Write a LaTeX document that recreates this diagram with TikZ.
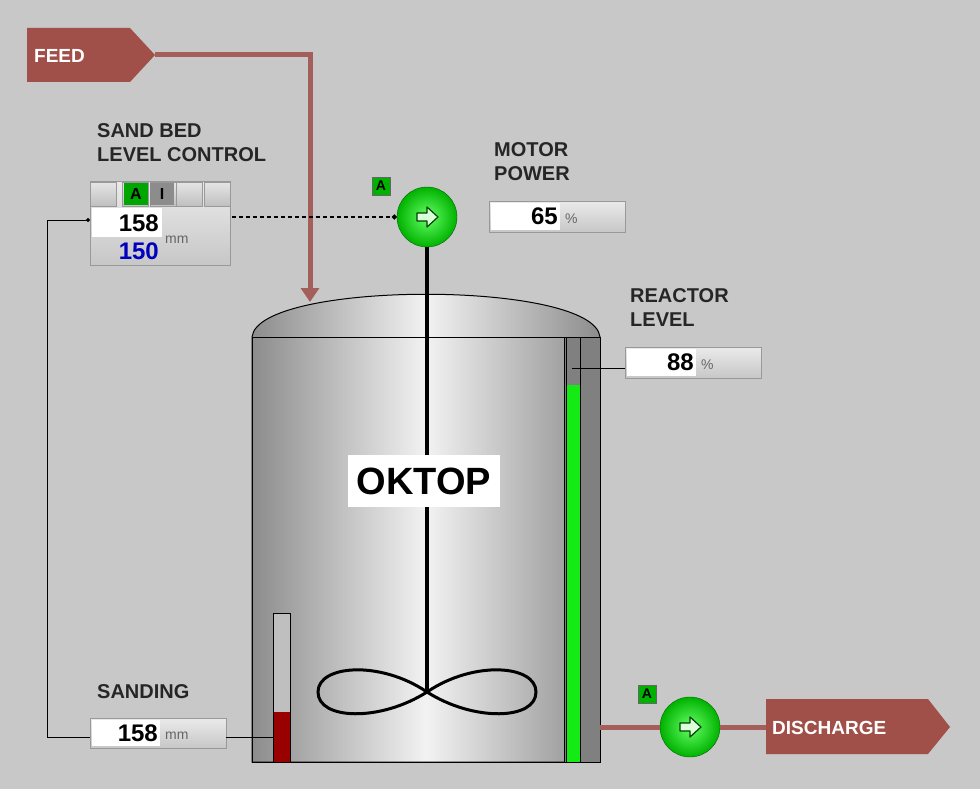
\documentclass[tikz,border=0pt]{standalone}
\usepackage{fontspec}
\setmainfont{Liberation Sans}
\usetikzlibrary{arrows.meta,shapes.geometric}
\definecolor{bg}{RGB}{200,200,200}
\definecolor{pipe}{RGB}{165,95,90}
\definecolor{tag}{RGB}{160,80,72}
\definecolor{gr}{RGB}{20,235,20}
\begin{document}
\begin{tikzpicture}[x=1pt,y=-1pt,
  lbl/.style={anchor=west,font=\fontsize{20}{24}\selectfont\bfseries,text=black!85,align=left,inner sep=0},
  val/.style={font=\fontsize{24}{24}\selectfont\bfseries,inner sep=0},
  unit/.style={font=\fontsize{14}{14}\selectfont,text=black!60,inner sep=0,anchor=west},
  vbox/.style={draw=black!40,top color=white!92!black,bottom color=black!22,line width=0.6pt},
  abox/.style={draw=black!60,fill=green!70!black,minimum width=18pt,minimum height=18pt,inner sep=0,font=\fontsize{14}{14}\selectfont\bfseries},
  pump/.style={circle,draw=green!40!black,inner color=green!60,outer color=green!70!black,minimum size=60pt,inner sep=0},
  icon/.style={fill=green!15,draw=green!25!black,line width=1.2pt,line join=round},
  tagsh/.style={fill=tag,text=white,font=\fontsize{19}{20}\selectfont\bfseries}]
\fill[bg] (0,0) rectangle (980,789);
\useasboundingbox (0,0) rectangle (980,789);
% FEED
\fill[tagsh] (27,28) -- (130,28) -- (155,55) -- (130,82) -- (27,82) -- cycle;
\node[tagsh,anchor=west,inner sep=0] (feed) at (34,56) {FEED};
\coordinate (feedtip) at (155,55);
\coordinate (feedcorner) at (310,55);
\coordinate (feedend) at (310,302);
\draw[pipe,line width=5pt,-{Triangle[length=14pt,width=18pt]}] (feedtip) -- (feedcorner) -- (feedend);
% tank
\shade[left color=black!45,right color=black!45,middle color=white!95!black,draw=black,line width=1pt]
  (252,762) -- (252,337) .. controls (258,280) and (594,280) .. (600,337) -- (600,762) -- cycle;
\draw[black,line width=1pt] (252,337) -- (600,337);
\fill[black!50] (564,337) rectangle (600,762);
\fill[gr] (566,385) rectangle (580,762);
\draw[black,line width=1pt] (564,337) -- (564,762) (566,337)--(566,762) (580,337)--(580,762);
\draw[black,line width=1pt] (252,762) rectangle (600,337);
% sanding gauge
\fill[black!25] (273,613) rectangle (290,762);
\fill[red!60!black] (273,712) rectangle (290,762);
\draw[black,line width=0.8pt] (273,762) -- (273,613) -- (290,613) -- (290,762);
% shaft and agitator
\node[pump] (motor) at (427,217) {};
\coordinate (hub) at (427,692);
\draw[black,line width=4pt] (motor.south) -- (hub);
\draw[black,line width=3pt] (hub) .. controls (380,660) and (318,665) .. (318,692) .. controls (318,720) and (380,722) .. (hub)
  .. controls (474,660) and (536,665) .. (536,692) .. controls (536,720) and (474,722) .. (hub);
\draw[icon,shift={(motor.center)}] (-10,-4) -- (0,-4) -- (0,-10) -- (11,0) -- (0,10) -- (0,4) -- (-10,4) -- cycle;
\node[abox] (am) at (381,186) {A};
% OKTOP
\node[fill=white,minimum width=152pt,minimum height=52pt,font=\fontsize{38}{38}\selectfont\bfseries] (ok) at (424,481) {OKTOP};
% motor power
\node[lbl] (mp) at (494,162) {MOTOR\\POWER};
\draw[vbox] (489,201) rectangle (625,232);
\fill[white] (491,203) rectangle (560,230);
\node[val,anchor=east] (mpv) at (558,216) {65};
\node[unit] (mpu) at (565,219) {\%};
% reactor level
\node[lbl] (rl) at (630,308) {REACTOR\\LEVEL};
\draw[vbox] (625,347) rectangle (761,378);
\fill[white] (627,349) rectangle (696,376);
\node[val,anchor=east] (rlv) at (694,362) {88};
\node[unit] (rlu) at (701,365) {\%};
\coordinate (rlb) at (625,368);
\coordinate (gauge) at (572,368);
\draw[black,line width=1pt] (rlb) -- (gauge);
% sand bed level control
\node[lbl] (sb) at (97,143) {SAND BED\\LEVEL CONTROL};
\draw[vbox] (90,181) rectangle (230,265);
\foreach \x in {90,122,150,176,204} \draw[black!40,top color=black!10,bottom color=black!25] (\x,182) rectangle ++(26,24);
\draw[black!40,top color=black!10,bottom color=black!25] (204,182) rectangle (230,206);
\node[fill=green!65!black,minimum width=24pt,minimum height=22pt,inner sep=0,font=\fontsize{16}{16}\selectfont\bfseries] (ba) at (136,194) {A};
\node[fill=black!45,minimum width=24pt,minimum height=22pt,inner sep=0,font=\fontsize{16}{16}\selectfont\bfseries] (bi) at (162,194) {I};
\fill[white] (92,208) rectangle (162,237);
\node[val,anchor=east] (sbv) at (159,223) {158};
\node[val,anchor=east,text=blue!75!black] (sbs) at (159,251) {150};
\node[unit] (sbu) at (165,240) {mm};
\coordinate (sbin) at (90,220);
\coordinate (sbout) at (232,217);
\draw[black,line width=1.3pt,dash pattern=on 4pt off 3pt,-{Circle[length=5pt]}] (sbout) -- (motor.west);
% sanding
\node[lbl] (sd) at (97,692) {SANDING};
\draw[vbox] (90,718) rectangle (226,748);
\fill[white] (92,720) rectangle (160,746);
\node[val,anchor=east] (sdv) at (158,733) {158};
\node[unit] (sdu) at (165,736) {mm};
\coordinate (sdl) at (90,737);
\coordinate (sdr) at (226,737);
\draw[black,line width=1pt] (sdr) -- (273,737);
\draw[black,line width=1pt,-{Circle[length=4pt]}] (sdl) -- (47,737) -- (47,220) -- (sbin);
% discharge
\fill[tagsh] (766,699) -- (928,699) -- (950,727) -- (928,754) -- (766,754) -- cycle;
\node[tagsh,anchor=west,inner sep=0] (dis) at (772,728) {DISCHARGE};
\node[pump] (dp) at (690,727) {};
\draw[pipe,line width=5pt] (600,727) -- (dp.west) (dp.east) -- (766,727);
\draw[icon,shift={(dp.center)}] (-10,-4) -- (0,-4) -- (0,-10) -- (11,0) -- (0,10) -- (0,4) -- (-10,4) -- cycle;
\node[abox] (ad) at (647,694) {A};
\end{tikzpicture}
\end{document}
